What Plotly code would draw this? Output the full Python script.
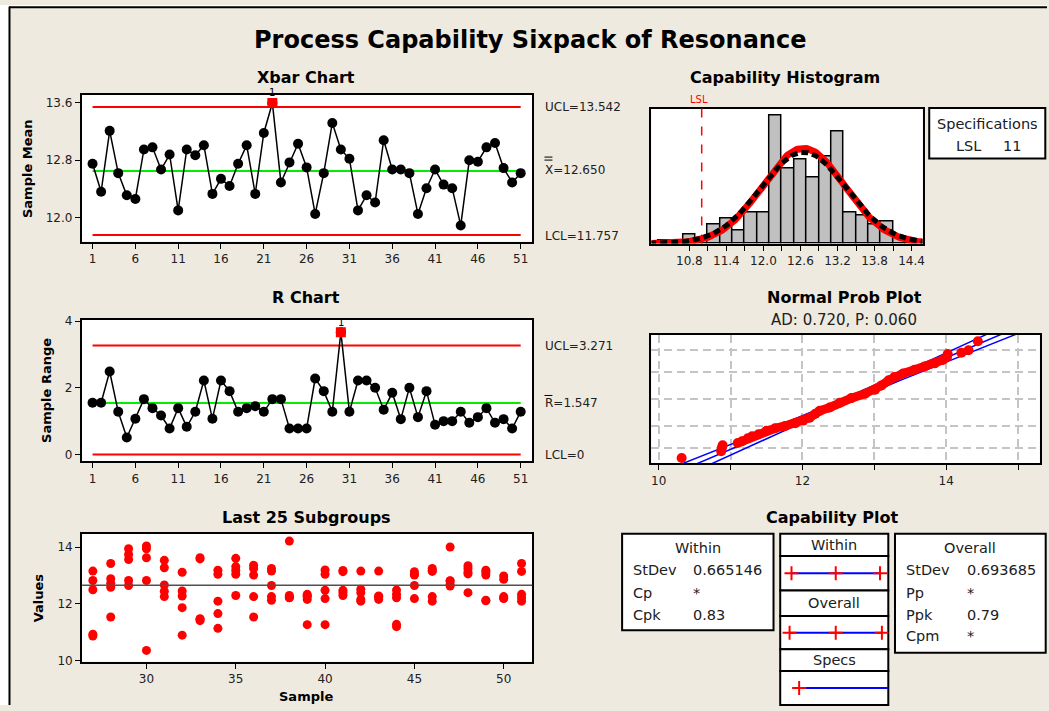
import numpy as np
import plotly.graph_objects as go

W, H = 1049, 711
FONT = "DejaVu Sans, Verdana, sans-serif"
BG = "#EEEAE0"

def px(x):
    return x / W

def py(y):
    yc = 356 + (y - 356) / 0.985
    yc = min(max(yc, 0), H)
    return 1 - yc / H

# ---------------- data ----------------
subgroups = list(range(1, 52))
xbar = [12.75, 12.36, 13.21, 12.62, 12.31, 12.26, 12.95, 12.98, 12.67, 12.88,
        12.10, 12.95, 12.87, 13.01, 12.33, 12.54, 12.44, 12.75, 13.01, 12.33,
        13.18, 13.60, 12.49, 12.77, 13.03, 12.70, 12.05, 12.62, 13.32, 12.95,
        12.82, 12.10, 12.31, 12.21, 13.08, 12.67, 12.67, 12.62, 12.05, 12.41,
        12.67, 12.46, 12.41, 11.89, 12.80, 12.78, 12.98, 13.04, 12.69, 12.49, 12.62]
ranges = [1.55, 1.55, 2.49, 1.28, 0.51, 1.07, 1.66, 1.39, 1.17, 0.78,
          1.39, 0.83, 1.28, 2.22, 1.07, 2.22, 1.90, 1.28, 1.39, 1.45,
          1.28, 1.66, 1.66, 0.78, 0.78, 0.78, 2.28, 1.90, 1.28, 3.67,
          1.28, 2.22, 2.22, 2.00, 1.34, 1.85, 1.06, 2.00, 1.12, 1.90,
          0.89, 1.00, 1.00, 1.28, 0.95, 1.12, 1.39, 0.95, 1.06, 0.78, 1.28]
xbar_ucl, xbar_cl, xbar_lcl = 13.542, 12.650, 11.757
r_ucl, r_cl, r_lcl = 3.271, 1.547, 0.0

last25_samples = list(range(27, 52))
last25_values = [
    [13.15, 12.82, 12.49, 10.92, 10.86],
    [13.42, 12.88, 12.72, 12.58, 11.53],
    [13.94, 13.74, 13.56, 12.82, 12.64],
    [14.04, 13.94, 13.62, 12.82, 10.35],
    [13.53, 13.27, 12.66, 12.44, 12.25],
    [13.11, 12.45, 12.27, 11.86, 10.89],
    [13.62, 13.58, 11.47, 11.45, 11.40],
    [13.18, 13.04, 12.09, 11.65, 11.13],
    [13.60, 13.31, 13.18, 13.04, 12.29],
    [13.36, 13.24, 13.01, 12.25, 11.53],
    [13.24, 13.15, 12.64, 12.25, 12.12],
    [14.21, 12.29, 12.25, 12.22, 12.21],
    [12.33, 12.27, 12.25, 12.15, 11.26],
    [13.19, 13.04, 12.47, 12.18, 11.26],
    [13.17, 13.13, 12.47, 12.39, 12.29],
    [13.15, 12.51, 12.39, 12.15, 12.09],
    [13.15, 12.27, 12.25, 12.24, 12.15],
    [12.48, 12.33, 12.21, 11.27, 11.19],
    [13.13, 13.04, 13.01, 12.64, 12.18],
    [13.24, 13.17, 13.14, 12.25, 12.09],
    [14.00, 12.81, 12.80, 12.68, 12.62],
    [13.34, 13.24, 13.12, 13.05, 12.39],
    [13.18, 13.10, 13.01, 12.12, 12.10],
    [12.98, 12.86, 12.25, 12.20, 12.18],
    [13.42, 13.14, 12.33, 12.21, 12.09],
]

hist_centers = [10.4, 10.6, 10.8, 11.0, 11.2, 11.4, 11.6, 11.8, 12.0, 12.2, 12.4,
                12.6, 12.8, 13.0, 13.2, 13.4, 13.6, 13.8, 14.0, 14.2, 14.4]
hist_counts = [1, 0, 3, 0, 6, 8, 4, 10, 10, 41, 24, 27, 21, 28, 36, 10, 9, 6, 7, 2, 1]
bin_width = 0.2
n_obs = 255
mean_all = 12.650
sd_within = 0.665146
sd_overall = 0.693685
lsl = 11

# normal probability plot: points (value, normal score)
prob_band_x = [11.10, 11.16, 11.24, 11.30, 11.39, 11.50, 11.62, 11.76, 11.90, 12.01,
               12.10, 12.18, 12.24, 12.38, 12.52, 12.68, 12.87, 13.01, 13.10, 13.20,
               13.28, 13.40, 13.56, 13.70, 13.84, 13.95, 14.01, 14.02]
prob_band_z = [-2.08, -1.99, -1.85, -1.76, -1.66, -1.50, -1.38, -1.27, -1.14, -1.02,
               -0.88, -0.70, -0.56, -0.40, -0.18, 0.04, 0.25, 0.44, 0.64, 0.88,
               1.04, 1.20, 1.38, 1.53, 1.68, 1.84, 1.98, 2.12]
prob_iso_x = [10.32, 10.87, 10.88, 10.89, 14.21, 14.31, 14.44]
prob_iso_z = [-2.78, -2.46, -2.30, -2.18, 2.18, 2.30, 2.72]
prob_grid_z = [-2.3263, -1.2816, 0.0, 1.2816, 2.3263]

ad_text = "AD: 0.720, P: 0.060"
cpk, ppk = 0.83, 0.79

fig = go.Figure()

AX = dict(showline=True, mirror=True, linecolor="black", linewidth=2, ticks="outside",
          ticklen=5, tickwidth=1, tickcolor="black", showgrid=False, zeroline=False,
          tickfont=dict(family=FONT, size=12, color="#202020"))

# ---------------- Xbar chart ----------------
for val, col in [(xbar_ucl, "red"), (xbar_lcl, "red"), (xbar_cl, "#00EE00")]:
    fig.add_trace(go.Scatter(x=[subgroups[0], subgroups[-1]], y=[val, val], mode="lines",
                             line=dict(color=col, width=2), xaxis="x", yaxis="y", hoverinfo="skip"))
fig.add_trace(go.Scatter(x=subgroups, y=xbar, mode="lines+markers",
                         line=dict(color="black", width=1.5),
                         marker=dict(color="black", size=10), xaxis="x", yaxis="y"))
xo = [(s, v) for s, v in zip(subgroups, xbar) if v > xbar_ucl or v < xbar_lcl]
fig.add_trace(go.Scatter(x=[s for s, v in xo], y=[v for s, v in xo], mode="markers",
                         marker=dict(color="red", size=10, symbol="square"),
                         xaxis="x", yaxis="y"))
for s, v in xo:
    fig.add_annotation(x=s, y=v, xref="x", yref="y", text="1", showarrow=False,
                       yshift=10, font=dict(family=FONT, size=10, color="black"))

# ---------------- R chart ----------------
for val, col in [(r_ucl, "red"), (r_lcl, "red"), (r_cl, "#00EE00")]:
    fig.add_trace(go.Scatter(x=[subgroups[0], subgroups[-1]], y=[val, val], mode="lines",
                             line=dict(color=col, width=2), xaxis="x2", yaxis="y2", hoverinfo="skip"))
fig.add_trace(go.Scatter(x=subgroups, y=ranges, mode="lines+markers",
                         line=dict(color="black", width=1.5),
                         marker=dict(color="black", size=10), xaxis="x2", yaxis="y2"))
ro = [(s, v) for s, v in zip(subgroups, ranges) if v > r_ucl]
fig.add_trace(go.Scatter(x=[s for s, v in ro], y=[v for s, v in ro], mode="markers",
                         marker=dict(color="red", size=10, symbol="square"),
                         xaxis="x2", yaxis="y2"))
for s, v in ro:
    fig.add_annotation(x=s, y=v, xref="x2", yref="y2", text="1", showarrow=False,
                       yshift=10, font=dict(family=FONT, size=10, color="black"))

# ---------------- Last 25 subgroups ----------------
lx, ly = [], []
for s, vals in zip(last25_samples, last25_values):
    lx += [s] * len(vals)
    ly += vals
fig.add_shape(type="line", xref="x3 domain", yref="y3", x0=0, x1=1, y0=xbar_cl, y1=xbar_cl,
              line=dict(color="#505050", width=1.5))
fig.add_trace(go.Scatter(x=lx, y=ly, mode="markers", marker=dict(color="red", size=9),
                         xaxis="x3", yaxis="y3"))

# ---------------- Capability histogram ----------------
fig.add_trace(go.Bar(x=hist_centers, y=hist_counts, width=bin_width,
                     marker=dict(color="#C0C0C0", line=dict(color="black", width=1.5)),
                     xaxis="x4", yaxis="y4"))
cx = np.linspace(10.15, 14.62, 300)
def npdf(x, m, s):
    return np.exp(-0.5 * ((x - m) / s) ** 2) / (s * np.sqrt(2 * np.pi))
fig.add_trace(go.Scatter(x=cx, y=n_obs * bin_width * npdf(cx, mean_all, sd_within), mode="lines",
                         line=dict(color="red", width=7), xaxis="x4", yaxis="y4"))
fig.add_trace(go.Scatter(x=cx, y=n_obs * bin_width * npdf(cx, mean_all, sd_overall), mode="lines",
                         line=dict(color="black", width=5, dash="7px,4px"), xaxis="x4", yaxis="y4"))
fig.add_shape(type="line", xref="x4", yref="y4 domain", x0=lsl, x1=lsl, y0=0, y1=1,
              line=dict(color="red", width=1.5, dash="dash"))

# ---------------- Normal probability plot ----------------
zz = np.linspace(-3.3, 3.3, 200)
fit = mean_all + sd_overall * zz
half = 1.96 * sd_overall * np.sqrt((1 + zz ** 2 / 2) / n_obs)
for xs in (fit - half, fit, fit + half):
    fig.add_trace(go.Scatter(x=xs, y=zz, mode="lines", line=dict(color="blue", width=1.5),
                             xaxis="x5", yaxis="y5"))
fig.add_trace(go.Scatter(x=prob_band_x, y=prob_band_z, mode="lines+markers",
                         line=dict(color="red", width=9), marker=dict(color="red", size=10),
                         xaxis="x5", yaxis="y5"))
fig.add_trace(go.Scatter(x=prob_iso_x, y=prob_iso_z, mode="markers",
                         marker=dict(color="red", size=10), xaxis="x5", yaxis="y5"))

# ---------------- Capability plot ----------------
cap_rows = [
    ("x6", "y6", mean_all - 3 * sd_within, mean_all + 3 * sd_within, [mean_all - 3 * sd_within, mean_all, mean_all + 3 * sd_within]),
    ("x7", "y7", mean_all - 3 * sd_overall, mean_all + 3 * sd_overall, [mean_all - 3 * sd_overall, mean_all, mean_all + 3 * sd_overall]),
    ("x8", "y8", lsl, 15.2, [lsl]),
]
for xa, ya, a, b, marks in cap_rows:
    fig.add_trace(go.Scatter(x=[a, b], y=[0, 0], mode="lines", line=dict(color="blue", width=2),
                             xaxis=xa, yaxis=ya))
    fig.add_trace(go.Scatter(x=marks, y=[0] * len(marks), mode="markers",
                             marker=dict(symbol="cross-thin", size=10, line=dict(color="red", width=2)),
                             xaxis=xa, yaxis=ya))

# ---------------- layout ----------------
lay = dict(width=W, height=H, margin=dict(l=0, r=0, t=0, b=0), autosize=False,
           paper_bgcolor=BG, plot_bgcolor="white", showlegend=False, bargap=0)

lay["xaxis"] = dict(AX, domain=[px(82), px(533)], anchor="y", range=[-0.25, 52.32],
                    tickvals=list(range(1, 52, 5)))
lay["yaxis"] = dict(AX, domain=[py(242), py(95)], anchor="x", range=[11.665, 13.716],
                    tickvals=[12.0, 12.8, 13.6], ticktext=["12.0", "12.8", "13.6"])
lay["xaxis2"] = dict(AX, domain=[px(82), px(533)], anchor="y2", range=[-0.25, 52.32],
                     tickvals=list(range(1, 52, 5)))
lay["yaxis2"] = dict(AX, domain=[py(461.7), py(320)], anchor="x2", range=[-0.2, 4.05],
                     tickvals=[0, 2, 4])
lay["xaxis3"] = dict(AX, domain=[px(82.3), px(533.3)], anchor="y3", range=[26.4, 51.6],
                     tickvals=[30, 35, 40, 45, 50])
lay["yaxis3"] = dict(AX, domain=[py(662.3), py(534.3)], anchor="x3", range=[9.954, 14.47],
                     tickvals=[10, 12, 14])
htv = [round(10.8 + 0.3 * k, 1) for k in range(13)]
lay["xaxis4"] = dict(AX, domain=[px(652.7), px(924.3)], anchor="y4", range=[10.186, 14.578],
                     tickvals=htv, ticktext=[f"{v:.1f}" if k % 2 == 0 else "" for k, v in enumerate(htv)])
lay["yaxis4"] = dict(AX, domain=[py(244), py(109)], anchor="x4", range=[0, 43.3],
                     ticks="", showticklabels=False)
ptv = [10, 11, 12, 13, 14, 15]
lay["xaxis5"] = dict(AX, domain=[px(652.7), px(1041.7)], anchor="y5", range=[9.9, 15.3],
                     tickvals=ptv, ticktext=["10", "", "12", "", "14", ""],
                     showgrid=True, gridcolor="#C4C4C4", griddash="8px,5px", gridwidth=1.5)
lay["yaxis5"] = dict(AX, domain=[py(464), py(335)], anchor="x5", range=[-3.04, 3.04],
                     tickvals=prob_grid_z, ticks="", showticklabels=False,
                     showgrid=True, gridcolor="#C4C4C4", griddash="8px,5px", gridwidth=1.5)
cap_dom = {"6": (556.7, 591), "7": (616.7, 650), "8": (671.7, 708.3)}
for k, (t, b) in cap_dom.items():
    lay["xaxis" + k] = dict(domain=[px(781.7), px(890)], anchor="y" + k, range=[10.146, 15.02],
                            visible=False, fixedrange=True)
    lay["yaxis" + k] = dict(domain=[py(b), py(t)], anchor="x" + k, range=[-1, 1],
                            visible=False, fixedrange=True)
fig.update_layout(**lay)

# frame: white strips + black border
fig.add_shape(type="rect", xref="paper", yref="paper", x0=0, x1=1, y0=py(7), y1=1,
              fillcolor="white", line=dict(width=0), layer="below")
fig.add_shape(type="rect", xref="paper", yref="paper", x0=0, x1=px(9), y0=0, y1=1,
              fillcolor="white", line=dict(width=0), layer="below")
fig.add_shape(type="line", xref="paper", yref="paper", x0=px(9), x1=1, y0=py(7.5), y1=py(7.5),
              line=dict(color="black", width=2))
fig.add_shape(type="line", xref="paper", yref="paper", x0=px(9.5), x1=px(9.5), y0=0, y1=py(7),
              line=dict(color="black", width=2))

def box(x0, y0, x1, y1, layer="below"):
    fig.add_shape(type="rect", xref="paper", yref="paper", x0=px(x0), x1=px(x1), y0=py(y1), y1=py(y0),
                  fillcolor="white", line=dict(color="black", width=2), layer=layer)

box(931, 108.3, 1047.3, 159)          # specifications
box(623.3, 534.3, 775, 631)           # within stats
box(896.7, 534.3, 1047.7, 653.3)      # overall stats
for (t, b) in [(534.3, 556.7), (556.7, 591), (591, 616.7), (616.7, 650), (650, 671.7), (671.7, 708.3)]:
    box(781.7, t, 890, b)

def ann(x, y, text, size=12, bold=False, xanchor="center", color="#202020", angle=0):
    fig.add_annotation(x=px(x), y=py(y), xref="paper", yref="paper",
                       text=f"<b>{text}</b>" if bold else text, showarrow=False,
                       xanchor=xanchor, yanchor="middle", textangle=angle,
                       font=dict(family=FONT, size=size, color=color))

ann(531, 40, "Process Capability Sixpack of Resonance", size=24, bold=True, color="black")
ann(307, 78, "Xbar Chart", size=16, bold=True, color="black")
ann(307, 298, "R Chart", size=16, bold=True, color="black")
ann(307, 518, "Last 25 Subgroups", size=16, bold=True, color="black")
ann(787, 78, "Capability Histogram", size=16, bold=True, color="black")
ann(846, 298, "Normal Prob Plot", size=16, bold=True, color="black")
ann(834, 518, "Capability Plot", size=16, bold=True, color="black")
ann(846, 320, ad_text, size=15)

ann(27, 168.5, "Sample Mean", size=13, bold=True, angle=-90, color="black")
ann(46.5, 391, "Sample Range", size=13, bold=True, angle=-90, color="black")
ann(38, 598, "Values", size=13, bold=True, angle=-90, color="black")
ann(307, 697, "Sample", size=13, bold=True, color="black")

ann(544, 107.5, f"UCL={xbar_ucl:.3f}", xanchor="left")
ann(544, 170.5, f"X={xbar_cl:.3f}", xanchor="left")
ann(544, 236, f"LCL={xbar_lcl:.3f}", xanchor="left")
ann(544, 347, f"UCL={r_ucl:.3f}", xanchor="left")
ann(544, 404, f"R={r_cl:.3f}", xanchor="left")
ann(544, 456, "LCL=0", xanchor="left")
for yy in (157.5, 160.5):
    fig.add_shape(type="line", xref="paper", yref="paper", x0=px(545.5), x1=px(553.5),
                  y0=py(yy), y1=py(yy), line=dict(color="black", width=1))
fig.add_shape(type="line", xref="paper", yref="paper", x0=px(545.5), x1=px(553.5),
              y0=py(396), y1=py(396), line=dict(color="black", width=1))

ann(700, 100, "LSL", size=10, color="red")
ann(989, 124, "Specifications", size=14.5)
ann(956, 146.5, "LSL", size=14.5, xanchor="left")
ann(1003, 146.5, f"{lsl}", size=14.5, xanchor="left")

ann(699, 549, "Within", size=14.5)
for yy, lab, val in [(571, "StDev", f"{sd_within:.6f}"), (594, "Cp", "*"), (616, "Cpk", f"{cpk:.2f}")]:
    ann(632, yy, lab, size=14.5, xanchor="left")
    ann(692, yy, val, size=14.5, xanchor="left")
ann(972, 549, "Overall", size=14.5)
for yy, lab, val in [(571, "StDev", f"{sd_overall:.6f}"), (594, "Pp", "*"), (616, "Ppk", f"{ppk:.2f}"), (637, "Cpm", "*")]:
    ann(906, yy, lab, size=14.5, xanchor="left")
    ann(967, yy, val, size=14.5, xanchor="left")
ann(836, 545.5, "Within", size=14.5)
ann(836, 604, "Overall", size=14.5)
ann(836, 661, "Specs", size=14.5)

fig.write_html("out.html")
